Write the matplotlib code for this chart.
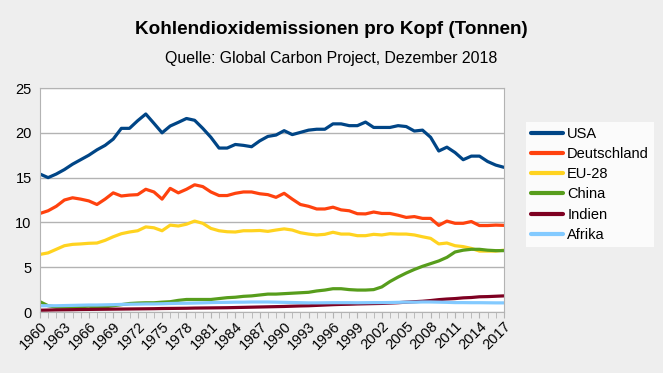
import matplotlib
matplotlib.use("Agg")
import matplotlib.pyplot as plt
import numpy as np

plt.rcParams['font.family'] = ['Liberation Sans', 'DejaVu Sans']

years = list(range(1960, 2018))

usa = [15.4, 15.0, 15.4, 15.9, 16.5, 17.0, 17.5, 18.1, 18.6, 19.3,
       20.5, 20.5, 21.35, 22.1, 21.06, 20.0, 20.76, 21.17, 21.6, 21.4,
       20.5, 19.5, 18.3, 18.3, 18.7, 18.6, 18.45, 19.1, 19.6, 19.75,
       20.24, 19.8, 20.05, 20.3, 20.4, 20.4, 21.0, 21.0, 20.8, 20.8,
       21.2, 20.6, 20.6, 20.6, 20.8, 20.7, 20.2, 20.3, 19.5, 17.97,
       18.4, 17.8, 17.0, 17.4, 17.4, 16.8, 16.4, 16.15]
deutschland = [11.0, 11.3, 11.8, 12.5, 12.75, 12.6, 12.4, 12.0, 12.6, 13.3,
               12.95, 13.05, 13.1, 13.7, 13.4, 12.6, 13.8, 13.3, 13.7, 14.2,
               14.0, 13.4, 13.0, 13.0, 13.25, 13.4, 13.4, 13.2, 13.1, 12.8,
               13.25, 12.6, 12.0, 11.8, 11.5, 11.5, 11.7, 11.4, 11.3, 10.97,
               10.95, 11.16, 11.0, 11.0, 10.8, 10.56, 10.65, 10.45, 10.45, 9.67,
               10.15, 9.9, 9.9, 10.1, 9.65, 9.65, 9.7, 9.67]
eu28 = [6.43, 6.6, 7.0, 7.4, 7.55, 7.6, 7.67, 7.7, 8.0, 8.4,
        8.74, 8.93, 9.07, 9.5, 9.4, 9.07, 9.7, 9.6, 9.8, 10.15,
        9.9, 9.33, 9.07, 8.96, 8.93, 9.07, 9.07, 9.1, 9.0, 9.15,
        9.28, 9.15, 8.85, 8.7, 8.6, 8.67, 8.9, 8.7, 8.7, 8.52,
        8.52, 8.67, 8.6, 8.74, 8.7, 8.7, 8.6, 8.4, 8.22, 7.6,
        7.7, 7.4, 7.3, 7.1, 6.8, 6.8, 6.8, 6.9]
china = [1.15, 0.7, 0.55, 0.55, 0.55, 0.6, 0.65, 0.55, 0.58, 0.7,
         0.82, 0.95, 1.0, 1.03, 1.03, 1.1, 1.15, 1.3, 1.4, 1.4,
         1.4, 1.4, 1.5, 1.6, 1.65, 1.75, 1.8, 1.9, 2.0, 2.0,
         2.05, 2.1, 2.15, 2.2, 2.35, 2.45, 2.6, 2.6, 2.5, 2.45,
         2.45, 2.5, 2.8, 3.4, 3.9, 4.35, 4.75, 5.1, 5.4, 5.7,
         6.1, 6.7, 6.9, 7.0, 7.0, 6.9, 6.85, 6.85]
indien = [0.2, 0.22, 0.24, 0.25, 0.26, 0.28, 0.29, 0.3, 0.31, 0.32,
          0.33, 0.34, 0.35, 0.36, 0.37, 0.39, 0.4, 0.41, 0.42, 0.44,
          0.45, 0.46, 0.47, 0.48, 0.5, 0.52, 0.54, 0.56, 0.58, 0.6,
          0.62, 0.65, 0.68, 0.7, 0.74, 0.78, 0.82, 0.85, 0.87, 0.9,
          0.92, 0.94, 0.96, 1.0, 1.04, 1.1, 1.15, 1.2, 1.28, 1.38,
          1.45, 1.5, 1.58, 1.62, 1.7, 1.72, 1.76, 1.8]
afrika = [0.7, 0.7, 0.7, 0.72, 0.74, 0.76, 0.78, 0.78, 0.8, 0.82,
          0.85, 0.87, 0.88, 0.9, 0.9, 0.92, 0.95, 0.97, 0.98, 1.0,
          1.02, 1.05, 1.07, 1.08, 1.1, 1.1, 1.12, 1.12, 1.12, 1.1,
          1.08, 1.06, 1.04, 1.02, 1.02, 1.03, 1.04, 1.04, 1.04, 1.03,
          1.04, 1.05, 1.05, 1.06, 1.08, 1.1, 1.1, 1.12, 1.12, 1.1,
          1.08, 1.05, 1.05, 1.04, 1.04, 1.03, 1.02, 1.02]

series = [("USA", usa, "#004586"),
          ("Deutschland", deutschland, "#ff420e"),
          ("EU-28", eu28, "#ffd320"),
          ("China", china, "#579d1c"),
          ("Indien", indien, "#7e0021"),
          ("Afrika", afrika, "#83caff")]

bg = "#eeeeee"
fig = plt.figure(figsize=(6.63, 3.73), dpi=100, facecolor=bg)
ax = fig.add_axes([0.0603, 0.1635, 0.6997, 0.6005])
ax.set_facecolor("white")

for name, vals, col in series:
    ax.plot(years, vals, color=col, lw=2.3, label=name, solid_capstyle="round")

ax.set_xlim(1960, 2017)
ax.set_ylim(0, 25)
ax.set_yticks(range(0, 26, 5))
ax.set_xticks(range(1960, 2018, 3))
ax.set_xticks(years, minor=True)
ax.grid(axis="y", color="#b3b3b3", lw=1)
ax.set_axisbelow(True)
for s in ax.spines.values():
    s.set_color("#b3b3b3")
ax.tick_params(axis="y", length=0, labelsize=10.5, pad=6)
ax.tick_params(axis="x", which="both", length=4, color="#b3b3b3", labelsize=10.5, pad=1)
plt.setp(ax.get_xticklabels(), rotation=45, ha="right", rotation_mode="anchor")

leg = fig.legend(loc="upper left", bbox_to_anchor=(0.7934, 0.6729), frameon=True,
                 fancybox=False, edgecolor="white", facecolor="white",
                 fontsize=10.5, handlelength=2.2, handletextpad=0.27,
                 labelspacing=0.42, borderpad=0.35, borderaxespad=0)
leg.get_frame().set_linewidth(0)
for h in leg.get_lines():
    h.set_linewidth(3)

fig.text(0.5, 0.922, "Kohlendioxidemissionen pro Kopf (Tonnen)", ha="center",
         va="center", fontsize=13.6, fontweight="bold")
fig.text(0.5, 0.842, "Quelle: Global Carbon Project, Dezember 2018", ha="center",
         va="center", fontsize=11.4)

fig.savefig("out.png", dpi=100, facecolor=bg)
